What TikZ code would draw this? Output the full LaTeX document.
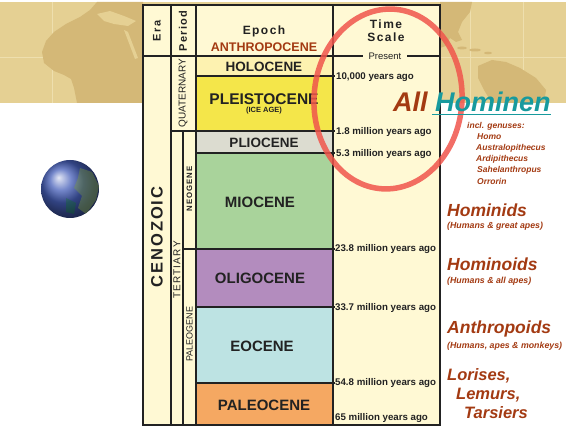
\documentclass[tikz,border=0pt]{standalone}
\usepackage{fontspec}
\setmainfont{Liberation Sans}
\newfontfamily\spaced[LetterSpace=12]{Liberation Sans}
\newcommand{\fsz}[1]{\fontsize{#1}{#1}\selectfont}

\definecolor{mapbg}{HTML}{E5D093}
\definecolor{land}{HTML}{D4B877}
\definecolor{mapgrid}{HTML}{EEDFAE}
\definecolor{cream}{HTML}{FFF9D4}
\definecolor{holo}{HTML}{FDF2B0}
\definecolor{pleisto}{HTML}{F4E64A}
\definecolor{plio}{HTML}{DCDCD0}
\definecolor{mio}{HTML}{A9D39B}
\definecolor{oligo}{HTML}{B38CBE}
\definecolor{eo}{HTML}{BDE3E3}
\definecolor{paleo}{HTML}{F5A862}
\definecolor{rust}{HTML}{A33A12}
\definecolor{hteal}{HTML}{179A9E}
\definecolor{ring}{HTML}{F0554C}
\definecolor{ink}{HTML}{222222}

\begin{document}
\begin{tikzpicture}[x=1pt,y=-1pt,
  rule/.style={ink,line width=1.3pt},
  epoch/.style={inner sep=0,text=ink,font=\fsz{15}\bfseries},
  age/.style={anchor=west,inner sep=0,text=ink,font=\fsz{9.7}\bfseries},
  vlabel/.style={inner sep=0,rotate=90,text=ink},
  group/.style={anchor=west,inner sep=0,text=rust,font=\fsz{17.5}\bfseries\itshape},
  note/.style={anchor=west,inner sep=0,text=rust,font=\fsz{8.8}\bfseries\itshape},
  genus/.style={anchor=west,inner sep=0,text=rust,font=\fsz{8.5}\bfseries\itshape}]
\useasboundingbox (0,0) rectangle (566,427);

% map strip
\fill[mapbg] (0,2) rectangle (566,103);
\draw[mapgrid,line width=0.8pt] (0,57) -- (566,57);
\foreach \x in {52,103,470,523}
  \draw[mapgrid,line width=0.8pt] (\x,2) -- (\x,103);
\fill[land] (97,2) -- (90,10) -- (80,17) -- (66,24) -- (54,32) -- (46,41) -- (42,52)
  -- (44,63) -- (54,71) -- (64,75) -- (71,79) -- (74,88) -- (77,103) -- (143,103) -- (143,2) -- cycle;
\fill[mapbg] (97,14) -- (110,11) -- (124,16) -- (136,21) -- (128,26) -- (114,24) -- (104,21) -- cycle;
\fill[mapbg] (124,30) -- (128,32) -- (138,58) -- (135,59) -- cycle;
\fill[land] (440,2) -- (472,2) -- (470,12) -- (462,22) -- (458,32) -- (462,40) -- (456,42)
  -- (450,38) -- (446,46) -- (440,48) -- cycle;
\fill[land] (462,48) ellipse (5 and 1.5);
\fill[land] (475,50) ellipse (6 and 1.5);
\fill[land] (488,53) ellipse (4 and 1.3);
\fill[land] (478,66) -- (492,60) -- (506,62) -- (520,68) -- (536,78) -- (546,90)
  -- (544,103) -- (492,103) -- (484,90) -- (478,78) -- cycle;

% globe
\shade[ball color={rgb,255:red,70;green,95;blue,185}] (70,189) circle (29);
\begin{scope}
  \clip (70,189) circle (29);
  \fill[brown!70!green,opacity=0.35] (80,168) -- (92,172) -- (99,186) -- (96,200) -- (86,214)
    -- (78,208) -- (82,196) -- (74,188) -- (78,178) -- cycle;
  \fill[green!50!black,opacity=0.25] (66,198) -- (76,203) -- (74,214) -- (66,212) -- cycle;
\end{scope}

% chart body
\fill[cream] (143,5) rectangle (440,425);
\fill[holo] (196,56) rectangle (333,76);
\fill[pleisto] (196,76) rectangle (333,131);
\fill[plio] (196,131) rectangle (333,153);
\fill[mio] (196,153) rectangle (333,249);
\fill[oligo] (196,249) rectangle (333,307);
\fill[eo] (196,307) rectangle (333,383);
\fill[paleo] (196,383) rectangle (333,425);

\draw[rule] (143,56) -- (363,56);
\draw[rule] (407,56) -- (440,56);
\draw[rule] (171,5) -- (171,425);
\draw[rule] (196,5) -- (196,425);
\draw[rule] (333,5) -- (333,425);
\draw[rule] (183,131) -- (183,425);
\draw[rule] (171,131) -- (196,131);
\draw[rule] (183,249) -- (196,249);
\foreach \y in {76,131,153,249,307,383}
  \draw[rule] (196,\y) -- (335,\y);
\draw[ink,line width=1.8pt] (143,5) rectangle (440,425);

% headings
\draw (157,31) node[vlabel,font=\fsz{11}\bfseries\spaced] (era) {Era};
\draw (183,31) node[vlabel,font=\fsz{11}\bfseries\spaced] (period) {Period};
\draw (264,31) node[inner sep=0,text=ink,font=\fsz{12}\bfseries\spaced] (epochhd) {Epoch};
\draw (264,47) node[inner sep=0,text=rust,font=\fsz{12.5}\bfseries] (anthro) {ANTHROPOCENE};
\draw (386,24) node[inner sep=0,text=ink,font=\fsz{12}\bfseries\spaced] (time) {Time};
\draw (386,37) node[inner sep=0,text=ink,font=\fsz{12}\bfseries\spaced] (scale) {Scale};
\draw (385,56) node[inner sep=0,text=ink,font=\fsz{9.5}] (present) {Present};

% eras and periods
\draw (157,237) node[vlabel,font=\fsz{16.5}\bfseries\spaced] (cenozoic) {CENOZOIC};
\draw (183,93) node[vlabel,font=\fsz{10}] (quat) {QUATERNARY};
\draw (177,270) node[vlabel,font=\fsz{10}\spaced] (tert) {TERTIARY};
\draw (189.5,189) node[vlabel,font=\fsz{7.8}\bfseries\spaced] (neo) {NEOGENE};
\draw (189.5,334) node[vlabel,font=\fsz{9}] (paleog) {PALEOGENE};

% epochs
\draw (264,67) node[epoch,font=\fsz{13.5}\bfseries] (holocene) {HOLOCENE};
\draw (264,99) node[epoch,font=\fsz{15.5}\bfseries] (pleistocene) {PLEISTOCENE};
\draw (264,111) node[epoch,font=\fsz{7.5}\bfseries] (iceage) {(ICE AGE)};
\draw (264,143) node[epoch,font=\fsz{13.5}\bfseries] (pliocene) {PLIOCENE};
\draw (260,202) node[epoch] (miocene) {MIOCENE};
\draw (260,278) node[epoch] (oligocene) {OLIGOCENE};
\draw (262,346) node[epoch] (eocene) {EOCENE};
\draw (264,405) node[epoch] (paleocene) {PALEOCENE};

% ages
\draw (336,77) node[age] (a1) {10,000 years ago};
\draw (336,132) node[age] (a2) {1.8 million years ago};
\draw (336,154) node[age] (a3) {5.3 million years ago};
\draw (335,249) node[age] (a4) {23.8 million years ago};
\draw (335,308) node[age] (a5) {33.7 million years ago};
\draw (335,383) node[age] (a6) {54.8 million years ago};
\draw (335,418) node[age] (a7) {65 million years ago};

% red ring
\draw[ring,line width=5.5pt,opacity=0.85,rotate around={-4:(388,99)}] (388,99) ellipse (74 and 90);

% primate groups
\draw (393,112) node[anchor=base west,inner sep=0,text=rust,font=\fsz{27}\bfseries\itshape] (all) {All};
\draw (all.base east) node[anchor=base west,inner sep=0,xshift=7pt,text=hteal,font=\fsz{27}\bfseries\itshape] (hominen) {Hominen};
\draw[hteal,line width=1.3pt] ([xshift=-3pt,yshift=-2.5pt]hominen.base west) -- ([yshift=-2.5pt]hominen.base east);
\draw (467,126) node[genus] (incl) {incl. genuses:};
\draw (477,137) node[genus] (homo) {Homo};
\draw (476,148) node[genus] (austra) {Australopithecus};
\draw (476,159) node[genus] (ardi) {Ardipithecus};
\draw (477,170) node[genus] (sahel) {Sahelanthropus};
\draw (477,181) node[genus] (orrorin) {Orrorin};

\draw (447,210) node[group] (hominids) {Hominids};
\draw (447,226) node[note] (hominidsnote) {(Humans \& great apes)};
\draw (447,264) node[group] (hominoids) {Hominoids};
\draw (447,281) node[note] (hominoidsnote) {(Humans \& all apes)};
\draw (447,329) node[group] (anthropoids) {Anthropoids};
\draw (447,346) node[note] (anthropoidsnote) {(Humans, apes \& monkeys)};
\draw (447,376) node[group,font=\fsz{16.5}\bfseries\itshape] (lorises) {Lorises,};
\draw (456,395) node[group,font=\fsz{16.5}\bfseries\itshape] (lemurs) {Lemurs,};
\draw (464,413) node[group,font=\fsz{16.5}\bfseries\itshape] (tarsiers) {Tarsiers};
\end{tikzpicture}
\end{document}
